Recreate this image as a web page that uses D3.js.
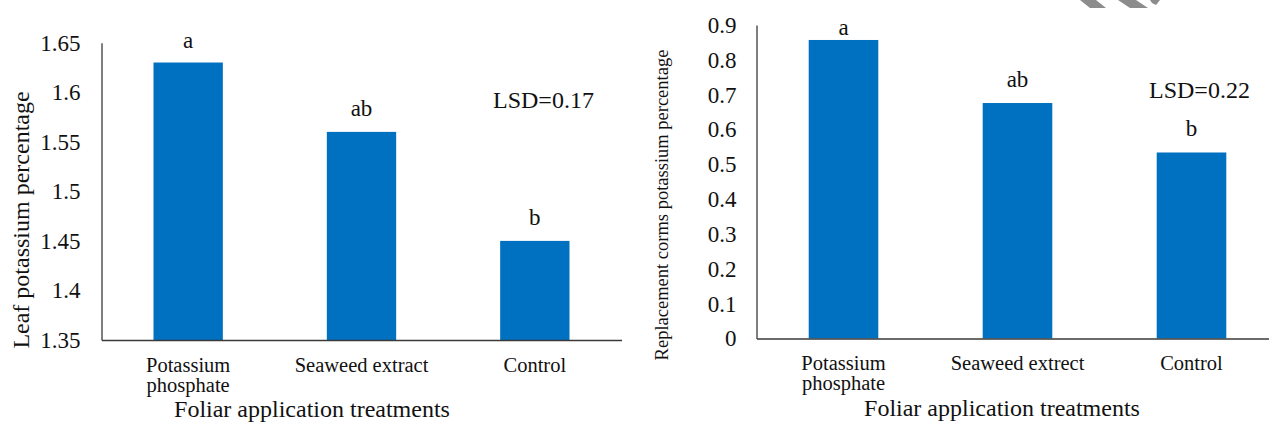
<!DOCTYPE html>
<html>
<head>
<meta charset="utf-8">
<script src="https://cdn.jsdelivr.net/npm/d3@7"></script>
<style>
  html, body { margin: 0; padding: 0; background: #fff; }
  svg { display: block; }
</style>
</head>
<body>
<svg id="chart" width="1269" height="424" font-family="'Liberation Serif', 'Times New Roman', serif"></svg>
<script>
// Treatments shared by both panels
const treatmentsLeft  = ["Potassium\nphosphate", "Seaweed extract", "Control"];
const treatmentsRight = ["Potassium\nphosphate", "Seaweed extrect", "Control"];

// Leaf potassium (%)
const leafK       = [1.63, 1.56, 1.45];
const leafLetters = ["a", "ab", "b"];
const leafTicks   = [1.35, 1.4, 1.45, 1.5, 1.55, 1.6, 1.65];
const leafTickLabels = ["1.35", "1.4", "1.45", "1.5", "1.55", "1.6", "1.65"];
const leafLSD     = "LSD=0.17";

// Replacement corms potassium (%)
const cormK       = [0.857, 0.676, 0.534];
const cormLetters = ["a", "ab", "b"];
const cormTicks   = [0, 0.1, 0.2, 0.3, 0.4, 0.5, 0.6, 0.7, 0.8, 0.9];
const cormTickLabels = ["0", "0.1", "0.2", "0.3", "0.4", "0.5", "0.6", "0.7", "0.8", "0.9"];
const cormLSD     = "LSD=0.22";

const xTitle = "Foliar application treatments";

const FONT = "'Liberation Serif', 'Times New Roman', serif";
const svg = d3.select("#chart");
const BAR = "#0070C0";
const AXIS = "#3a3a3a";
const INK = "#111";

function panel(cfg) {
  const g = svg.append("g").attr("font-family", FONT);
  const x = d3.scaleBand()
    .domain(cfg.cats)
    .range(cfg.xRange)
    .paddingInner(0.6)
    .paddingOuter(0.3);
  const y = d3.scaleLinear().domain(cfg.yDomain).range(cfg.yRange);

  // bars
  g.selectAll("rect.bar").data(cfg.values).join("rect")
    .attr("class", "bar")
    .attr("x", (d, i) => x(cfg.cats[i]))
    .attr("width", x.bandwidth())
    .attr("y", d => y(d))
    .attr("height", d => y(cfg.yDomain[0]) - y(d))
    .attr("fill", BAR);

  // y axis
  const yAxis = d3.axisLeft(y)
    .tickValues(cfg.ticks)
    .tickFormat((d, i) => cfg.tickLabels[i])
    .tickSize(0)
    .tickPadding(cfg.tickPad);
  const ya = g.append("g").attr("transform", `translate(${cfg.xRange[0]},0)`).call(yAxis)
    .attr("font-family", FONT).attr("font-size", cfg.tickFont);
  ya.select(".domain").attr("stroke", AXIS).attr("stroke-width", 1.3);
  ya.selectAll("text").attr("fill", INK);

  // x axis line
  const xa = g.append("g").attr("transform", `translate(0,${cfg.yRange[0]})`)
    .call(d3.axisBottom(x).tickSize(0).tickFormat(""));
  xa.select(".domain").attr("stroke", AXIS).attr("stroke-width", 1.3);

  // category labels (multi-line)
  cfg.cats.forEach(c => {
    const cx = x(c) + x.bandwidth() / 2;
    const t = g.append("text")
      .attr("text-anchor", "middle")
      .attr("font-size", 20.5)
      .attr("fill", INK)
      .attr("x", cx)
      .attr("y", cfg.catY);
    c.split("\n").forEach((line, k) => {
      t.append("tspan").attr("x", cx).attr("dy", k === 0 ? 0 : 20).text(line);
    });
  });

  // significance letters
  cfg.letters.forEach((L, i) => {
    const c = cfg.cats[i];
    g.append("text")
      .attr("text-anchor", "middle")
      .attr("font-size", 23)
      .attr("fill", INK)
      .attr("x", x(c) + x.bandwidth() / 2)
      .attr("y", Math.max(y(cfg.values[i]) - 16, cfg.yRange[1] + cfg.letterMinGap))
      .text(L);
  });

  // LSD note
  g.append("text").attr("font-size", 24).attr("fill", INK)
    .attr("x", cfg.lsdPos[0]).attr("y", cfg.lsdPos[1]).text(cfg.lsd);

  // axis titles
  g.append("text").attr("text-anchor", "middle").attr("font-size", 24).attr("fill", INK)
    .attr("x", cfg.xTitlePos[0]).attr("y", cfg.xTitlePos[1]).text(xTitle);
  g.append("text").attr("text-anchor", "middle").attr("font-size", cfg.yTitleFont).attr("fill", INK)
    .attr("transform", `translate(${cfg.yTitlePos[0]},${cfg.yTitlePos[1]}) rotate(-90)`)
    .text(cfg.yTitle);
}

panel({
  cats: treatmentsLeft, values: leafK, letters: leafLetters,
  ticks: leafTicks, tickLabels: leafTickLabels,
  xRange: [101.5, 621.5], yDomain: [1.35, 1.65], yRange: [340, 42.7],
  tickPad: 21, tickFont: 23, catY: 372, letterMinGap: 5,
  lsd: leafLSD, lsdPos: [493, 108],
  xTitlePos: [312, 417],
  yTitle: "Leaf potassium percentage", yTitleFont: 24, yTitlePos: [29, 220]
});

panel({
  cats: treatmentsRight, values: cormK, letters: cormLetters,
  ticks: cormTicks, tickLabels: cormTickLabels,
  xRange: [756.5, 1278.5], yDomain: [0, 0.9], yRange: [338.5, 25],
  tickPad: 20, tickFont: 23, catY: 370, letterMinGap: 10,
  lsd: cormLSD, lsdPos: [1149, 98],
  xTitlePos: [1002, 416],
  yTitle: "Replacement corms potassium percentage", yTitleFont: 18.5, yTitlePos: [668, 205]
});

// diagonal grey stripes along the top edge
const stripes = [
  [[1080, 0], [1096, 0], [1106, 8], [1090, 8]],
  [[1118, 0], [1136, 0], [1148, 8], [1130, 8]],
  [[1150, 0], [1160, 0], [1156, 5], [1152, 3]]
];
svg.selectAll("polygon.stripe").data(stripes).join("polygon")
  .attr("class", "stripe")
  .attr("points", d => d.map(p => p.join(",")).join(" "))
  .attr("fill", "#8c8c8c");
</script>
</body>
</html>
